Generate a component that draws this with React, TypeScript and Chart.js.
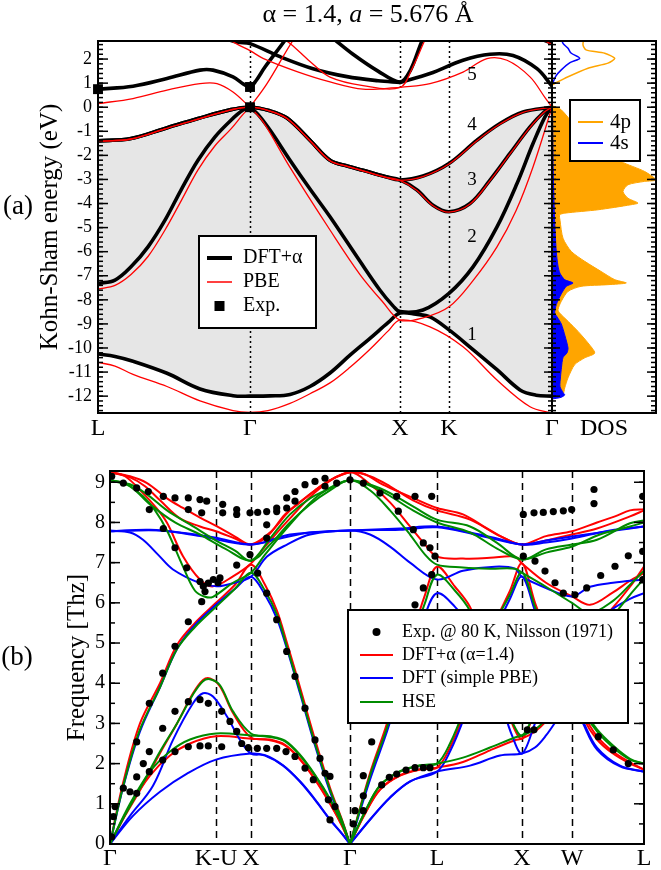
import React, { useEffect, useRef } from 'react';
import { Chart, registerables } from 'chart.js';

Chart.register(...registerables);

type Pair = [number, number];

const FONT = "'Liberation Serif', 'Times New Roman', serif";
const BLACK = '#000000';
const RED = 'rgb(255,0,0)';
const BLUE = 'rgb(0,0,255)';
const GREEN = 'rgb(0,139,0)';
const ORANGE = 'rgb(255,165,0)';
const GRAY_FILL = 'rgb(230,230,230)';

// ---------------- Panel (a): band structure ----------------
const bandPathTicks = [0, 152, 302, 351, 454];
const bandPathLabels = ['L', 'Γ', 'X', 'K', 'Γ'];
const energyTicks = [-12, -11, -10, -9, -8, -7, -6, -5, -4, -3, -2, -1, 0, 1, 2];
const energyMin = -12.7;
const energyMax = 2.75;

// DFT+alpha (black) valence bands
const dftBand1: Pair[] = [[0,-10.25],[17,-10.35],[35,-10.55],[69,-11.05],[102,-11.7],[135,-11.98],[152,-12.0],[172,-11.99],[192,-11.93],[212,-11.6],[232,-11.04],[252,-10.3],[272,-9.6],[290,-8.95],[302,-8.55],[318,-8.6],[332,-8.71],[351,-9.25],[372,-9.96],[399,-10.9],[422,-11.74],[438,-11.96],[454,-12.0]];
const dftBand2: Pair[] = [[0,-7.32],[17,-7.18],[33,-6.63],[50,-5.8],[67,-4.69],[83,-3.44],[100,-2.2],[117,-1.23],[133,-0.54],[145,-0.12],[152,0],[152,0],[160,-0.3],[172,-0.95],[192,-2.2],[212,-3.4],[232,-4.55],[262,-6.4],[282,-7.6],[295,-8.25],[302,-8.49],[325,-8.42],[351,-7.73],[375,-6.63],[399,-4.97],[419,-3.17],[435,-1.51],[447,-0.4],[454,0]];
const dftBand3: Pair[] = [[0,-1.4],[33,-1.3],[67,-0.88],[100,-0.47],[133,-0.1],[152,0],[172,-0.15],[189,-0.45],[212,-1.37],[232,-2.2],[250,-2.45],[265,-2.62],[287,-2.88],[302,-3.02],[319,-3.44],[335,-4.07],[351,-4.34],[372,-4.0],[392,-3.03],[412,-1.92],[432,-0.82],[446,-0.2],[454,0]];
const dftBand4: Pair[] = [[0,-1.4],[33,-1.3],[67,-0.88],[100,-0.47],[133,-0.1],[152,0],[172,-0.15],[189,-0.45],[212,-1.37],[232,-2.2],[250,-2.45],[265,-2.62],[287,-2.88],[302,-3.02],[325,-2.86],[351,-2.34],[379,-1.37],[402,-0.68],[425,-0.2],[454,0]];
// DFT+alpha (black) conduction bands
const dftCond1: Pair[] = [[0,0.75],[35,0.87],[69,1.19],[102,1.54],[115,1.54],[135,1.26],[146,0.95],[152,0.84],[158,1.1],[167,1.67],[187,2.78],[195,3.3]];
const dftCond2: Pair[] = [[127,2.85],[140,2.7],[152,2.64],[182,2.1],[215,1.6],[249,1.27],[280,1.1],[302,1.03]];
const dftCond3: Pair[] = [[235,2.86],[255,2.2],[280,1.5],[302,1.05],[312,1.5],[324,2.75],[330,3.2]];
const dftCond4: Pair[] = [[302,1.03],[332,1.4],[365,1.95],[392,2.2],[415,2.15],[439,1.6],[454,0.88]];
const dftCond5: Pair[] = [[435,2.95],[445,2.8],[454,2.66]];

// PBE (red) valence bands
const pbeBand1: Pair[] = [[0,-10.6],[17,-10.75],[35,-11.1],[69,-11.6],[102,-12.2],[135,-12.6],[152,-12.67],[170,-12.6],[192,-12.3],[212,-11.9],[232,-11.45],[252,-10.8],[272,-10.05],[290,-9.3],[302,-8.84],[332,-9.12],[365,-9.95],[399,-11.33],[432,-12.44],[454,-12.71]];
const pbeBand2: Pair[] = [[0,-7.55],[17,-7.4],[33,-6.95],[50,-6.2],[67,-5.1],[83,-3.9],[100,-2.6],[117,-1.6],[133,-0.9],[145,-0.3],[152,0],[152,0],[165,-0.6],[192,-2.5],[232,-5.1],[262,-6.95],[285,-8.1],[302,-8.84],[325,-8.75],[351,-8.29],[375,-7.2],[399,-5.8],[418,-4.3],[435,-2.48],[454,0]];
const pbeBand3: Pair[] = [[0,-1.42],[33,-1.32],[67,-0.9],[100,-0.49],[133,-0.11],[152,0],[172,-0.16],[189,-0.47],[212,-1.39],[232,-2.22],[250,-2.47],[265,-2.64],[287,-2.9],[302,-3.04],[319,-3.46],[335,-4.09],[351,-4.36],[372,-4.02],[392,-3.05],[412,-1.94],[432,-0.84],[446,-0.21],[454,0]];
const pbeBand4: Pair[] = [[0,-1.42],[33,-1.32],[67,-0.9],[100,-0.49],[133,-0.11],[152,0],[172,-0.16],[189,-0.47],[212,-1.39],[232,-2.22],[250,-2.47],[265,-2.64],[287,-2.9],[302,-3.04],[325,-2.88],[351,-2.36],[379,-1.39],[402,-0.7],[425,-0.21],[454,0]];
// PBE (red) conduction bands
const pbeCond1: Pair[] = [[0,0.15],[35,0.36],[69,0.71],[102,0.98],[119,0.98],[135,0.63],[152,0],[152,0],[169,0.98],[195,2.78],[205,3.3]];
const pbeCond2: Pair[] = [[127,2.9],[140,2.6],[152,2.35],[165,2.03],[199,1.48],[232,1.05],[265,0.75],[302,0.82]];
const pbeCond3: Pair[] = [[180,2.95],[192,2.65],[212,1.9],[232,1.25],[265,0.9],[302,0.82],[314,1.6],[327,2.8],[332,3.2]];
const pbeCond4: Pair[] = [[302,0.82],[332,0.98],[365,1.46],[389,2.02],[409,1.95],[432,1.26],[447,0.4],[454,0]];
const pbeCond5: Pair[] = [[437,2.95],[447,2.75],[454,2.6]];

// Experimental gaps (squares)
const expSquareK = [0, 152, 152];
const expSquareE = [0.75, 0.84, 0];

// Band labels
const bandLabelText = ['5', '4', '3', '2', '1'];
const bandLabelK = [374, 374, 374, 374, 374];
const bandLabelE = [1.33, -0.75, -3.03, -5.38, -9.46];

// DOS [energy, density]
const dosTicks = [52];
const dos4pValence: Pair[] = [[-12.12,0],[-12.05,6],[-11.94,11],[-11.66,12.7],[-11.24,16],[-10.69,22.7],[-10.41,32.7],[-10.21,42.7],[-9.79,36],[-9.31,26],[-8.89,16],[-8.55,7.7],[-8.41,6],[-8.06,9.3],[-7.65,16],[-7.44,29],[-7.37,56],[-7.3,74.3],[-7.16,62.7],[-6.82,49],[-6.4,32.7],[-5.99,19.3],[-5.44,11],[-4.69,8],[-4.47,7.7],[-4.4,12.7],[-4.26,46],[-4.05,79],[-3.98,86],[-3.78,76],[-3.5,71],[-3.22,76],[-3.08,92.7],[-3.02,104],[-2.67,92.7],[-2.25,69],[-1.56,46],[-0.73,22.7],[-0.11,9.3],[0.03,2.7],[0.06,0]];
const dos4sValence: Pair[] = [[-12.12,0],[-12.05,9],[-11.95,12.7],[-11.85,11],[-11.6,8],[-11.2,8.5],[-10.8,9.5],[-10.4,11],[-10.2,15],[-10.0,16],[-9.5,13],[-9.0,9.3],[-8.7,5],[-8.55,2.7],[-8.2,4.3],[-7.75,9.3],[-7.44,14.3],[-7.3,21],[-7.16,12.7],[-6.9,8],[-6.6,6],[-6.0,4.3],[-4.8,2.7],[-2.6,1.2],[0,0.5],[0.05,0]];
const dos4pConduction: Pair[] = [[0.93,0],[1.2,12.7],[1.62,36],[1.83,56],[2.03,62.7],[2.24,52.7],[2.38,34],[2.59,31],[2.9,32]];
const dos4sConduction: Pair[] = [[0.93,0],[1.3,4],[1.55,9.3],[1.85,18],[2.03,27.7],[2.25,19],[2.45,16],[2.65,11],[2.9,9.3]];

// ---------------- Panel (b): phonons ----------------
const phononPathTicks = [0, 106, 141, 240, 327, 412, 462, 534];
const phononPathLabels = ['Γ', 'K-U', 'X', 'Γ', 'L', 'X', 'W', 'L'];
const freqTicks = [0, 1, 2, 3, 4, 5, 6, 7, 8, 9];
const freqMax = 9.28;

// DFT+alpha (red)
const alphaTA1: Pair[] = [[0,0],[20,0.95],[40,1.7],[60,2.2],[80,2.5],[106,2.68],[141,2.62],[160,2.58],[175,2.45],[190,2.1],[205,1.6],[220,1.0],[232,0.45],[240,0],[240,0],[255,0.75],[270,1.35],[290,1.7],[310,1.85],[327,1.9],[353,2.04],[380,2.33],[405,2.58],[412,2.62],[425,2.8],[436,3.05],[450,3.5],[462,3.9],[473,3.15],[487,2.6],[503,2.25],[520,2.0],[534,1.85]];
const alphaTA2: Pair[] = [[0,0],[15,0.7],[30,1.34],[50,2.26],[67,3.0],[83,3.75],[93,4.08],[100,4.12],[110,3.92],[123,3.26],[141,2.65],[160,2.6],[175,2.47],[190,2.12],[205,1.62],[220,1.02],[232,0.46],[240,0],[240,0],[255,0.76],[270,1.36],[290,1.71],[310,1.86],[327,1.9],[340,2.4],[355,3.3],[370,4.4],[385,5.5],[400,6.3],[412,6.98],[425,6.0],[436,5.3],[450,4.5],[462,3.9],[473,3.25],[487,2.68],[503,2.3],[520,2.03],[534,1.85]];
const alphaLA: Pair[] = [[0,0],[13,1.51],[30,3.0],[50,4.0],[67,4.95],[85,5.5],[106,6.0],[125,6.45],[141,6.95],[155,6.45],[167,5.8],[177,5.0],[190,3.9],[205,2.6],[220,1.4],[232,0.6],[240,0],[240,0],[260,1.76],[277,3.0],[300,5.0],[315,6.2],[327,6.9],[345,6.4],[360,5.9],[375,5.0],[390,3.8],[402,3.0],[412,2.62],[425,3.3],[436,4.0],[450,4.6],[462,5.0],[480,5.3],[500,5.8],[520,6.4],[534,6.9]];
const alphaLO: Pair[] = [[0,9.25],[15,9.15],[33,8.73],[45,8.4],[57,7.99],[73,7.16],[90,6.58],[103,6.41],[123,6.66],[141,6.98],[155,7.4],[180,8.1],[210,8.85],[240,9.25],[260,8.95],[280,8.5],[300,7.9],[315,7.45],[327,7.15],[353,7.1],[380,7.12],[405,7.15],[412,6.98],[436,6.5],[462,6.16],[480,5.95],[503,6.26],[520,6.55],[534,6.74]];
const alphaTO1: Pair[] = [[0,9.25],[20,9.15],[37,8.98],[57,8.6],[73,8.36],[90,8.12],[107,7.9],[125,7.65],[141,7.45],[157,7.65],[175,8.2],[190,8.5],[205,8.8],[220,9.05],[240,9.25],[255,9.2],[270,8.98],[290,8.75],[303,8.61],[327,8.36],[353,8.2],[377,7.85],[395,7.6],[412,7.45],[436,7.66],[462,7.78],[487,8.0],[505,8.15],[520,8.3],[534,8.33]];
const alphaTO2: Pair[] = [[0,9.25],[20,9.12],[35,8.9],[50,8.55],[70,8.1],[90,7.9],[106,7.78],[125,7.6],[141,7.45],[160,7.75],[180,8.3],[200,8.7],[220,9.05],[240,9.25],[260,9.15],[280,8.9],[303,8.55],[327,8.3],[360,8.07],[390,7.66],[412,7.45],[436,7.55],[462,7.7],[487,7.85],[520,8.15],[534,8.3]];

// HSE (green)
const hseTA1: Pair[] = [[0,0],[20,1.0],[40,1.8],[60,2.3],[80,2.6],[106,2.75],[141,2.7],[160,2.66],[175,2.55],[190,2.2],[205,1.7],[220,1.1],[232,0.5],[240,0],[240,0],[255,0.8],[270,1.45],[290,1.8],[310,1.95],[327,2.0],[353,2.15],[380,2.4],[405,2.65],[412,2.7],[425,2.85],[436,3.1],[450,3.5],[462,3.9],[473,3.3],[487,2.8],[503,2.4],[520,2.1],[534,2.0]];
const hseTA2: Pair[] = [[0,0],[15,0.72],[30,1.38],[50,2.3],[67,3.0],[83,3.72],[93,4.05],[100,4.1],[110,3.95],[123,3.3],[141,2.75],[160,2.68],[175,2.57],[190,2.22],[205,1.72],[220,1.12],[232,0.51],[240,0],[240,0],[255,0.81],[270,1.46],[290,1.81],[310,1.96],[327,2.0],[340,2.5],[355,3.4],[370,4.5],[385,5.5],[400,6.2],[412,6.75],[425,5.9],[436,5.2],[450,4.5],[462,3.9],[473,3.35],[487,2.85],[503,2.45],[520,2.12],[534,2.0]];
const hseLA: Pair[] = [[0,0],[13,1.42],[30,2.85],[50,3.9],[67,4.85],[85,5.4],[106,5.9],[125,6.35],[141,6.75],[155,6.3],[167,5.7],[177,4.9],[190,3.8],[205,2.5],[220,1.35],[232,0.58],[240,0],[240,0],[260,1.7],[277,2.9],[300,4.9],[315,6.0],[327,6.7],[345,6.3],[360,5.8],[375,4.9],[390,3.8],[402,3.05],[412,2.7],[425,3.3],[436,4.0],[450,4.6],[462,5.0],[480,5.2],[500,5.6],[520,6.2],[534,6.6]];
const hseLO: Pair[] = [[0,9.05],[15,8.98],[33,8.65],[45,8.3],[57,7.8],[73,6.9],[85,6.3],[95,6.15],[103,6.15],[123,6.5],[141,6.75],[155,7.2],[180,7.95],[210,8.7],[240,9.05],[260,8.8],[280,8.3],[300,7.7],[315,7.2],[327,6.95],[353,6.88],[380,6.85],[405,6.85],[412,6.75],[436,6.4],[462,6.0],[480,5.75],[503,6.05],[520,6.45],[534,6.8]];
const hseTO1: Pair[] = [[0,9.05],[20,8.95],[37,8.7],[57,8.3],[80,7.95],[106,7.55],[125,7.3],[141,7.05],[160,7.6],[180,8.2],[200,8.6],[220,8.85],[240,9.05],[270,8.85],[303,8.4],[327,8.07],[360,7.9],[387,7.49],[412,7.08],[436,7.33],[462,7.45],[487,7.57],[520,7.98],[534,8.05]];
const hseTO2: Pair[] = [[0,9.05],[20,8.9],[40,8.45],[65,8.0],[90,7.7],[115,7.35],[141,7.05],[160,7.45],[180,8.0],[200,8.45],[220,8.8],[240,9.05],[270,8.8],[303,8.3],[327,8.0],[360,7.75],[387,7.35],[412,7.08],[436,7.25],[462,7.4],[490,7.7],[520,7.9],[534,8.0]];

// DFT simple PBE (blue)
const plainTA1: Pair[] = [[0,0],[23,0.7],[50,1.3],[77,1.75],[106,2.1],[141,2.25],[155,2.2],[173,1.95],[190,1.55],[205,1.1],[220,0.6],[232,0.25],[240,0],[240,0],[260,0.6],[280,1.15],[300,1.55],[327,1.8],[360,1.95],[390,2.2],[412,2.25],[425,2.4],[436,2.7],[450,3.2],[462,3.6],[473,3.0],[487,2.35],[510,1.93],[534,1.8]];
const plainTA2: Pair[] = [[0,0],[20,0.7],[43,1.45],[63,2.59],[83,3.5],[93,3.75],[103,3.67],[117,3.17],[130,2.59],[141,2.25],[155,2.21],[173,1.96],[190,1.56],[205,1.11],[220,0.61],[232,0.26],[240,0],[240,0],[260,0.61],[280,1.16],[300,1.56],[327,1.8],[340,2.3],[355,3.2],[370,4.3],[385,5.3],[400,6.1],[412,6.65],[425,5.8],[436,5.1],[450,4.3],[462,3.6],[473,3.05],[487,2.4],[510,1.95],[534,1.8]];
const plainLA: Pair[] = [[0,0],[13,1.4],[30,2.8],[50,3.9],[67,4.85],[85,5.45],[106,5.95],[125,6.35],[141,6.65],[155,6.2],[167,5.6],[177,4.85],[190,3.75],[205,2.45],[220,1.3],[232,0.55],[240,0],[240,0],[260,1.6],[277,2.8],[300,4.6],[315,5.7],[327,6.24],[345,5.9],[360,5.4],[375,4.6],[390,3.6],[402,2.7],[412,2.25],[425,3.0],[436,3.7],[450,4.3],[462,4.8],[480,5.3],[500,5.8],[520,6.1],[534,6.24]];
const plainLO: Pair[] = [[0,7.8],[20,7.75],[33,7.57],[48,7.2],[63,6.83],[90,6.49],[107,6.41],[125,6.5],[141,6.65],[157,7.15],[177,7.45],[200,7.7],[240,7.8],[260,7.7],[280,7.4],[300,7.0],[327,6.58],[353,6.8],[385,6.9],[405,6.85],[412,6.65],[436,6.37],[462,6.16],[480,6.4],[503,6.5],[534,6.58]];
const plainTO1: Pair[] = [[0,7.78],[40,7.82],[80,7.72],[106,7.62],[141,7.45],[170,7.6],[200,7.75],[240,7.8],[290,7.85],[327,7.9],[360,7.75],[387,7.6],[412,7.45],[436,7.55],[462,7.65],[490,7.75],[520,7.85],[534,7.9]];
const plainTO2: Pair[] = [[0,7.78],[50,7.8],[90,7.66],[141,7.45],[180,7.7],[240,7.8],[290,7.82],[327,7.88],[365,7.7],[412,7.45],[436,7.5],[462,7.6],[500,7.8],[534,7.9]];

// Experiment, Nilsson (1971), 80 K
const expK = [1.7,13.3,26.7,38.3,39.3,53.3,53.3,65,65,78.3,78.3,76.7,90,96.7,91.7,90,93.3,98.3,91.7,95,78.3,65,112.7,112.7,103.3,110,108,126.7,126.7,126.7,140,140,147.7,147.7,156.7,156.7,156.7,166.7,166.7,176.7,176.7,185,185,195,205,215,215,156.7,166.7,
  226.7,240,253.3,270,286.7,288.3,305,321.7,303.3,313.3,320,325,321.7,313.3,305,413.3,424,433.3,443.3,453.3,461.7,484,484,532.7,413.3,425,435,445,453.3,465,476.7,490.7,505,518.3,532.7,532.7,
  1.7,3.3,5,13.3,20,26.7,26.7,26.7,33.3,39.3,39.3,39.3,52.7,52.7,52.7,65,65,78.3,78.3,90,90,98.3,98.3,111.7,111.7,120,126.7,131.7,138.3,147.3,156.7,166.7,176,185,195,203.3,205,210,215,218.3,195,185,176.7,
  220,225,220,245,243.3,253.3,253.3,253.3,261.7,271.7,279.3,286.7,296,305,313.3,320,417.3,424,488.3,503.3,518.3];
const expF = [9.15,8.98,8.86,8.77,8.32,8.65,7.85,8.61,7.37,8.61,8.32,6.87,8.57,8.53,8.24,6.53,6.41,6.49,6.03,6.28,5.53,4.92,8.45,8.24,6.58,6.62,6.5,8.32,8.2,6.94,8.24,7.2,8.25,6.74,8.27,7.94,7.61,8.36,8.27,8.61,8.36,8.77,8.53,8.94,9.02,9.1,8.9,6.24,5.58,
  8.98,9.06,8.98,8.73,8.65,8.28,8.65,8.65,7.82,7.49,7.37,7.16,6.7,6.37,5.95,8.2,8.24,8.25,8.27,8.29,8.32,8.82,8.47,8.65,7.16,7.04,6.79,6.5,6.24,6.2,6.37,6.68,6.91,7.17,7.28,6.58,
  0.18,0.68,0.93,1.39,1.3,1.26,1.67,2.54,2.0,1.8,2.3,3.5,2.88,4.25,2.09,2.3,3.3,2.42,3.54,2.44,3.59,2.44,3.5,2.42,3.3,3.05,2.8,2.5,2.4,2.38,2.38,2.38,2.3,2.18,1.89,1.6,2.59,2.13,1.76,1.1,3.38,4.17,4.79,
  1.68,0.93,0.6,0.83,0.5,0.83,1.2,1.7,2.54,1.47,1.66,1.74,1.84,1.9,1.9,1.9,2.84,2.84,2.67,2.34,2.0];

// ---------------- helpers ----------------
const pts = (arr: Pair[]) => arr.map(([x, y]) => ({ x, y }));
const ptsDos = (arr: Pair[]) => arr.map(([e, v]) => ({ x: v, y: e }));

const framePlugin = {
  id: 'frame',
  afterDraw(chart: any) {
    const { ctx, chartArea: a } = chart;
    ctx.save();
    ctx.strokeStyle = BLACK;
    ctx.lineWidth = 2;
    ctx.strokeRect(a.left, a.top, a.right - a.left, a.bottom - a.top);
    ctx.restore();
  },
};

type TickSpec = { edge: 'left' | 'right'; step: number; len: number };
const ticksPlugin = (specs: TickSpec[]) => ({
  id: 'innerTicks',
  afterDraw(chart: any) {
    const { ctx, chartArea: a } = chart;
    const s = chart.scales.y;
    ctx.save();
    ctx.strokeStyle = BLACK;
    ctx.lineWidth = 1.5;
    specs.forEach((sp) => {
      const i0 = Math.ceil(s.min / sp.step - 1e-9);
      const i1 = Math.floor(s.max / sp.step + 1e-9);
      for (let i = i0; i <= i1; i++) {
        const y = s.getPixelForValue(i * sp.step);
        const x0 = sp.edge === 'left' ? a.left : a.right;
        const x1 = sp.edge === 'left' ? a.left + sp.len : a.right - sp.len;
        ctx.beginPath();
        ctx.moveTo(x0, y);
        ctx.lineTo(x1, y);
        ctx.stroke();
      }
    });
    ctx.restore();
  },
});

const vlinesPlugin = (values: number[], dash: number[], width: number) => ({
  id: 'vlines',
  beforeDatasetsDraw(chart: any) {
    const { ctx, chartArea: a, scales } = chart;
    ctx.save();
    ctx.strokeStyle = BLACK;
    ctx.lineWidth = width;
    ctx.setLineDash(dash);
    values.forEach((v) => {
      const x = Math.round(scales.x.getPixelForValue(v)) + 0.5;
      ctx.beginPath();
      ctx.moveTo(x, a.top);
      ctx.lineTo(x, a.bottom);
      ctx.stroke();
    });
    ctx.restore();
  },
});

type TextPart = { t: string; italic?: boolean };
type TextItem = { parts: TextPart[]; x: number; y: number; size: number; data?: boolean };
const textPlugin = (items: TextItem[]) => ({
  id: 'texts',
  afterDraw(chart: any) {
    const { ctx, scales } = chart;
    ctx.save();
    ctx.fillStyle = BLACK;
    ctx.textBaseline = 'middle';
    ctx.textAlign = 'left';
    items.forEach((it) => {
      const x = it.data ? scales.x.getPixelForValue(it.x) : it.x;
      const y = it.data ? scales.y.getPixelForValue(it.y) : it.y;
      const fonts = it.parts.map((p) => `${p.italic ? 'italic ' : ''}${it.size}px ${FONT}`);
      let total = 0;
      it.parts.forEach((p, i) => {
        ctx.font = fonts[i];
        total += ctx.measureText(p.t).width;
      });
      let cx = x - total / 2;
      it.parts.forEach((p, i) => {
        ctx.font = fonts[i];
        ctx.fillText(p.t, cx, y);
        cx += ctx.measureText(p.t).width;
      });
    });
    ctx.restore();
  },
});

type LegendItem = { label: string; kind: 'line' | 'square' | 'dot'; color: string; size: number };
type LegendLayout = { x: number; y: number; w: number; h: number; rows: number[]; symX0: number; symX1: number; textX: number; font: number };
const legendPlugin = (lay: LegendLayout, items: LegendItem[]) => ({
  id: 'boxLegend',
  afterDatasetsDraw(chart: any) {
    const { ctx } = chart;
    ctx.save();
    ctx.fillStyle = '#ffffff';
    ctx.fillRect(lay.x, lay.y, lay.w, lay.h);
    ctx.strokeStyle = BLACK;
    ctx.lineWidth = 2;
    ctx.strokeRect(lay.x, lay.y, lay.w, lay.h);
    items.forEach((it, i) => {
      const y = lay.rows[i];
      const cx = (lay.symX0 + lay.symX1) / 2;
      if (it.kind === 'line') {
        ctx.strokeStyle = it.color;
        ctx.lineWidth = it.size;
        ctx.beginPath();
        ctx.moveTo(lay.symX0, y);
        ctx.lineTo(lay.symX1, y);
        ctx.stroke();
      } else if (it.kind === 'square') {
        ctx.fillStyle = it.color;
        ctx.fillRect(cx - it.size / 2, y - it.size / 2, it.size, it.size);
      } else {
        ctx.fillStyle = it.color;
        ctx.beginPath();
        ctx.arc(cx, y, it.size, 0, Math.PI * 2);
        ctx.fill();
      }
      ctx.fillStyle = BLACK;
      ctx.font = `${lay.font}px ${FONT}`;
      ctx.textBaseline = 'middle';
      ctx.textAlign = 'left';
      ctx.fillText(it.label, lay.textX, y);
    });
    ctx.restore();
  },
});

const lineDs = (data: Pair[], color: string, width: number, extra: any = {}) => ({
  data: pts(data),
  borderColor: color,
  borderWidth: width,
  pointRadius: 0,
  fill: false,
  borderJoinStyle: 'round',
  borderCapStyle: 'round',
  ...extra,
});

const hideGrid = { display: false, drawTicks: false };

export default function App() {
  const refA = useRef<HTMLCanvasElement>(null);
  const refB = useRef<HTMLCanvasElement>(null);
  const refC = useRef<HTMLCanvasElement>(null);

  useEffect(() => {
    const charts: Chart[] = [];

    // ---- Panel (a) band structure ----
    const redSets = [pbeBand1, pbeBand2, pbeBand3, pbeBand4, pbeCond1, pbeCond2, pbeCond3, pbeCond4, pbeCond5];
    const blackSets = [dftBand1, dftBand2, dftBand3, dftCond1, dftCond2, dftCond3, dftCond4, dftCond5];
    const dsA: any[] = [];
    dsA.push({
      data: expSquareK.map((k, i) => ({ x: k, y: expSquareE[i] })),
      showLine: false,
      pointStyle: 'rect',
      pointRadius: 7,
      pointBackgroundColor: BLACK,
      pointBorderColor: BLACK,
      pointBorderWidth: 0,
      clip: false,
    });
    redSets.forEach((b) => dsA.push(lineDs(b, RED, 1.3)));
    const band1Index = dsA.length;
    blackSets.forEach((b) => dsA.push(lineDs(b, BLACK, 3.6)));
    dsA.push(lineDs(dftBand4, BLACK, 3.6, { fill: band1Index, backgroundColor: GRAY_FILL }));

    charts.push(
      new Chart(refA.current as HTMLCanvasElement, {
        type: 'line',
        data: { datasets: dsA },
        options: {
          responsive: false,
          animation: false,
          layout: { padding: { left: 30, right: 109, top: 41, bottom: 0 } },
          elements: { line: { tension: 0.35 }, point: { radius: 0 } },
          plugins: {
            legend: { display: false },
            tooltip: { enabled: false },
            filler: { drawTime: 'beforeDatasetsDraw' },
          } as any,
          scales: {
            x: {
              type: 'linear',
              min: 0,
              max: 454,
              afterBuildTicks: (s: any) => {
                s.ticks = bandPathTicks.map((v) => ({ value: v }));
              },
              afterFit: (s: any) => {
                s.height = 27;
              },
              ticks: {
                autoSkip: false,
                maxRotation: 0,
                padding: 1,
                color: BLACK,
                font: { family: FONT, size: 24 },
                callback: (_v: any, i: number) => bandPathLabels[i],
              },
              grid: hideGrid,
              border: { display: false },
            },
            y: {
              type: 'linear',
              min: energyMin,
              max: energyMax,
              afterBuildTicks: (s: any) => {
                s.ticks = energyTicks.map((v) => ({ value: v }));
              },
              afterFit: (s: any) => {
                s.width = 68;
              },
              ticks: {
                padding: 6,
                color: BLACK,
                font: { family: FONT, size: 18 },
                callback: (v: any) => String(v),
              },
              grid: hideGrid,
              border: { display: false },
              title: {
                display: true,
                text: 'Kohn-Sham energy (eV)',
                color: BLACK,
                font: { family: FONT, size: 25 },
                padding: { top: 5, bottom: 0 },
              },
            },
          } as any,
        },
        plugins: [
          vlinesPlugin([bandPathTicks[1], bandPathTicks[2], bandPathTicks[3]], [2, 3], 1.5),
          legendPlugin(
            { x: 199, y: 236, w: 117, h: 92, rows: [258, 282, 306], symX0: 207, symX1: 232, textX: 243, font: 20 },
            [
              { label: 'DFT+α', kind: 'line', color: BLACK, size: 4 },
              { label: 'PBE', kind: 'line', color: RED, size: 1.5 },
              { label: 'Exp.', kind: 'square', color: BLACK, size: 10 },
            ]
          ),
          ticksPlugin([
            { edge: 'left', step: 1, len: 10 },
            { edge: 'left', step: 0.2, len: 5 },
            { edge: 'right', step: 1, len: 8 },
            { edge: 'right', step: 0.2, len: 4 },
          ]),
          framePlugin,
          textPlugin([
            { parts: [{ t: 'α = 1.4, ' }, { t: 'a', italic: true }, { t: ' = 5.676 Å' }], x: 368, y: 15, size: 26 },
            { parts: [{ t: '(a)' }], x: 18, y: 207, size: 27 },
            ...bandLabelText.map((t, i) => ({ parts: [{ t }], x: bandLabelK[i], y: bandLabelE[i], size: 19, data: true })),
          ]),
        ],
      } as any)
    );

    // ---- Panel (a) DOS ----
    const dosDs = (arr: Pair[], color: string, filled: boolean) => ({
      data: ptsDos(arr),
      borderColor: color,
      backgroundColor: color,
      borderWidth: filled ? 1 : 1.5,
      pointRadius: 0,
      fill: filled ? 'origin' : false,
    });
    charts.push(
      new Chart(refB.current as HTMLCanvasElement, {
        type: 'line',
        data: {
          datasets: [
            dosDs(dos4sValence, BLUE, true),
            dosDs(dos4pValence, ORANGE, true),
            dosDs(dos4sConduction, BLUE, false),
            dosDs(dos4pConduction, ORANGE, false),
          ],
        },
        options: {
          responsive: false,
          animation: false,
          indexAxis: 'y',
          layout: { padding: { left: 12, right: 5, top: 41, bottom: 0 } },
          elements: { line: { tension: 0.25 }, point: { radius: 0 } },
          plugins: { legend: { display: false }, tooltip: { enabled: false } },
          scales: {
            x: {
              type: 'linear',
              min: 0,
              max: 104,
              afterBuildTicks: (s: any) => {
                s.ticks = dosTicks.map((v) => ({ value: v }));
              },
              afterFit: (s: any) => {
                s.height = 27;
              },
              ticks: {
                autoSkip: false,
                maxRotation: 0,
                padding: 1,
                color: BLACK,
                font: { family: FONT, size: 24 },
                callback: () => 'DOS',
              },
              grid: hideGrid,
              border: { display: false },
            },
            y: { type: 'linear', min: energyMin, max: energyMax, display: false },
          } as any,
        },
        plugins: [
          legendPlugin(
            { x: 30, y: 100, w: 70, h: 61, rows: [122, 143], symX0: 38, symX1: 63, textX: 70, font: 21 },
            [
              { label: '4p', kind: 'line', color: ORANGE, size: 2 },
              { label: '4s', kind: 'line', color: BLUE, size: 2 },
            ]
          ),
          ticksPlugin([
            { edge: 'left', step: 1, len: 8 },
            { edge: 'left', step: 0.2, len: 4 },
            { edge: 'right', step: 1, len: 9 },
            { edge: 'right', step: 0.2, len: 5 },
          ]),
          framePlugin,
        ],
      } as any)
    );

    // ---- Panel (b) phonons ----
    const methodSets = [
      { color: GREEN, branches: [hseTA1, hseTA2, hseLA, hseLO, hseTO1, hseTO2] },
      { color: BLUE, branches: [plainTA1, plainTA2, plainLA, plainLO, plainTO1, plainTO2] },
      { color: RED, branches: [alphaTA1, alphaTA2, alphaLA, alphaLO, alphaTO1, alphaTO2] },
    ];
    const dsC: any[] = [
      {
        data: expK.map((k, i) => ({ x: k, y: expF[i] })),
        showLine: false,
        pointRadius: 3.6,
        pointBackgroundColor: BLACK,
        pointBorderColor: BLACK,
        pointBorderWidth: 0,
      },
    ];
    methodSets.forEach((m) => m.branches.forEach((b) => dsC.push(lineDs(b, m.color, 2))));

    charts.push(
      new Chart(refC.current as HTMLCanvasElement, {
        type: 'line',
        data: { datasets: dsC },
        options: {
          responsive: false,
          animation: false,
          layout: { padding: { left: 55, right: 17, top: 31, bottom: 0 } },
          elements: { line: { tension: 0.35 }, point: { radius: 0 } },
          plugins: { legend: { display: false }, tooltip: { enabled: false } },
          scales: {
            x: {
              type: 'linear',
              min: 0,
              max: 534,
              afterBuildTicks: (s: any) => {
                s.ticks = phononPathTicks.map((v) => ({ value: v }));
              },
              afterFit: (s: any) => {
                s.height = 26;
              },
              ticks: {
                autoSkip: false,
                maxRotation: 0,
                padding: 0,
                color: BLACK,
                font: { family: FONT, size: 24 },
                callback: (_v: any, i: number) => phononPathLabels[i],
              },
              grid: hideGrid,
              border: { display: false },
            },
            y: {
              type: 'linear',
              min: 0,
              max: freqMax,
              afterBuildTicks: (s: any) => {
                s.ticks = freqTicks.map((v) => ({ value: v }));
              },
              afterFit: (s: any) => {
                s.width = 55;
              },
              ticks: {
                padding: 5,
                color: BLACK,
                font: { family: FONT, size: 20 },
                callback: (v: any) => String(v),
              },
              grid: hideGrid,
              border: { display: false },
              title: {
                display: true,
                text: 'Frequency [Thz]',
                color: BLACK,
                font: { family: FONT, size: 25 },
                padding: { top: 7, bottom: 0 },
              },
            },
          } as any,
        },
        plugins: [
          vlinesPlugin(phononPathTicks.slice(1, 7), [7, 5], 1.5),
          legendPlugin(
            { x: 348, y: 170, w: 280, h: 113, rows: [192, 215, 238, 262], symX0: 360, symX1: 393, textX: 402, font: 18 },
            [
              { label: 'Exp. @ 80 K, Nilsson (1971)', kind: 'dot', color: BLACK, size: 4 },
              { label: 'DFT+α (α=1.4)', kind: 'line', color: RED, size: 2.2 },
              { label: 'DFT (simple PBE)', kind: 'line', color: BLUE, size: 2.2 },
              { label: 'HSE', kind: 'line', color: GREEN, size: 2.2 },
            ]
          ),
          ticksPlugin([
            { edge: 'left', step: 1, len: 10 },
            { edge: 'left', step: 0.5, len: 5 },
            { edge: 'right', step: 1, len: 10 },
            { edge: 'right', step: 0.5, len: 5 },
          ]),
          framePlugin,
          textPlugin([{ parts: [{ t: '(b)' }], x: 17, y: 218, size: 27 }]),
        ],
      } as any)
    );

    return () => charts.forEach((c) => c.destroy());
  }, []);

  return (
    <div style={{ position: 'absolute', left: 0, top: 0, width: 661, height: 870, background: '#ffffff', overflow: 'hidden' }}>
      <canvas ref={refA} width={661} height={440} style={{ position: 'absolute', left: 0, top: 0 }} />
      <canvas ref={refB} width={121} height={440} style={{ position: 'absolute', left: 540, top: 0 }} />
      <canvas ref={refC} width={661} height={430} style={{ position: 'absolute', left: 0, top: 440 }} />
    </div>
  );
}
